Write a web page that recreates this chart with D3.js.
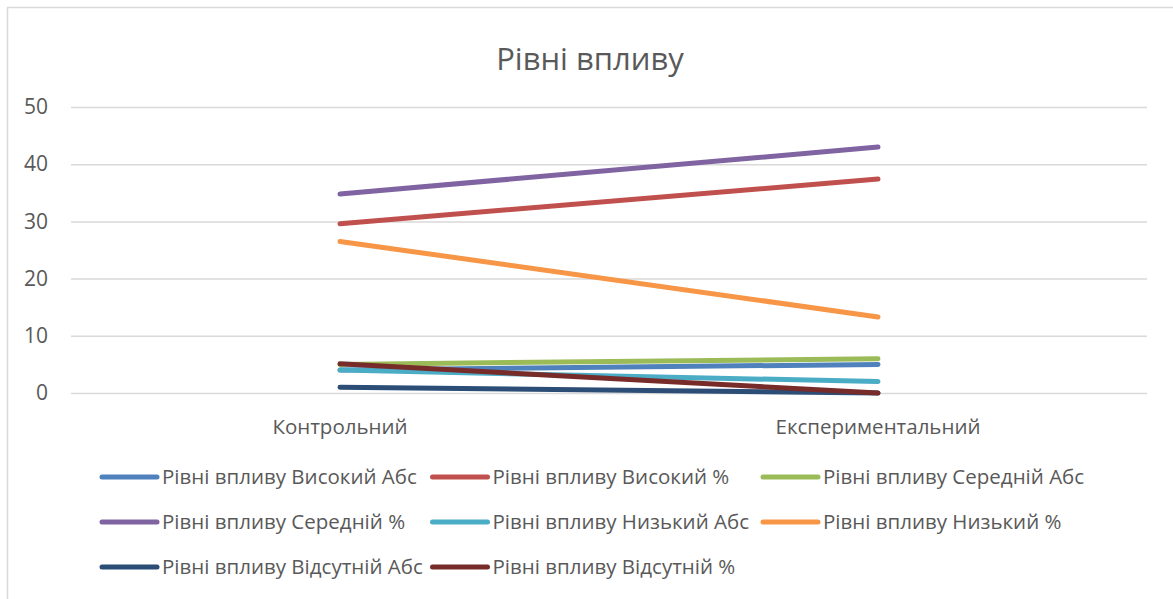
<!DOCTYPE html>
<html>
<head>
<meta charset="utf-8">
<script src="https://cdn.jsdelivr.net/npm/d3@7"></script>
<style>
  body { margin: 0; background: #fff; }
  text { font-family: "Open Sans", sans-serif; fill: #595959; }
</style>
</head>
<body>
<div id="chart"></div>
<script>
'use strict';

var title = 'Рівні впливу';
var categories = ['Контрольний', 'Експериментальний'];
var seriesNames = [
  'Рівні впливу Високий Абс',
  'Рівні впливу Високий %',
  'Рівні впливу Середній Абс',
  'Рівні впливу Середній %',
  'Рівні впливу Низький Абс',
  'Рівні впливу Низький %',
  'Рівні впливу Відсутній Абс',
  'Рівні впливу Відсутній %'
];
var seriesValues = [
  [4, 5],
  [29.6, 37.4],
  [5, 6],
  [34.8, 43],
  [4, 2],
  [26.5, 13.3],
  [1, 0],
  [5.1, 0]
];
var seriesColors = ['#4F81BD', '#C0504D', '#9BBB59', '#8064A2', '#4BACC6', '#F79646', '#2C4D75', '#772C2A'];
var yTicks = [0, 10, 20, 30, 40, 50];

var width = 1173;
var height = 599;
var margin = { top: 107, right: 26, bottom: 206, left: 71 };

var svg = d3.select('#chart').append('svg')
  .attr('width', width)
  .attr('height', height);

// Chart frame (right and bottom edges fall outside the picture).
svg.append('rect')
  .attr('x', 7.5)
  .attr('y', 7.5)
  .attr('width', width + 20)
  .attr('height', height + 20)
  .attr('fill', 'none')
  .attr('stroke', '#D9D9D9')
  .attr('stroke-width', 1.5);

svg.append('text')
  .attr('x', 590)
  .attr('y', 70)
  .attr('text-anchor', 'middle')
  .style('font-size', '31px')
  .text(title);

var x = d3.scaleBand()
  .domain(categories)
  .range([margin.left, width - margin.right]);

var y = d3.scaleLinear()
  .domain([0, 50])
  .range([height - margin.bottom, margin.top]);

// Gridlines + tick labels.
var yAxis = svg.append('g')
  .attr('transform', 'translate(' + margin.left + ',0)')
  .call(d3.axisLeft(y)
    .tickValues(yTicks)
    .tickSize(-(width - margin.left - margin.right))
    .tickPadding(23));

yAxis.select('.domain').remove();
yAxis.selectAll('.tick line')
  .attr('stroke', '#D9D9D9')
  .attr('stroke-width', 1.5);
yAxis.selectAll('.tick text')
  .style('font-size', '21px')
  .style('font-family', '"Open Sans", sans-serif')
  .attr('fill', '#595959');

// Category labels.
var xAxis = svg.append('g')
  .attr('transform', 'translate(0,' + y(0) + ')')
  .call(d3.axisBottom(x).tickSize(0).tickPadding(26));

xAxis.select('.domain').remove();
xAxis.selectAll('.tick text')
  .style('font-size', '20.5px')
  .style('font-family', '"Open Sans", sans-serif')
  .attr('fill', '#595959');

var line = d3.line()
  .x(function(d, i) { return x(categories[i]) + x.bandwidth() / 2; })
  .y(function(d) { return y(d); });

svg.append('g').selectAll('path')
  .data(seriesValues)
  .enter().append('path')
  .attr('d', line)
  .attr('fill', 'none')
  .attr('stroke', function(d, i) { return seriesColors[i]; })
  .attr('stroke-width', 5)
  .attr('stroke-linecap', 'round');

// Legend: three columns.
var legend = svg.append('g').selectAll('g')
  .data(seriesNames)
  .enter().append('g')
  .attr('transform', function(d, i) {
    return 'translate(' + (102 + (i % 3) * 330.5) + ',' + (477 + Math.floor(i / 3) * 45) + ')';
  });

legend.append('line')
  .attr('x1', 0)
  .attr('x2', 55)
  .attr('stroke', function(d, i) { return seriesColors[i]; })
  .attr('stroke-width', 5)
  .attr('stroke-linecap', 'round');

legend.append('text')
  .attr('x', 60)
  .attr('dy', '0.35em')
  .style('font-size', '20.5px')
  .text(function(d) { return d; });
</script>
</body>
</html>
